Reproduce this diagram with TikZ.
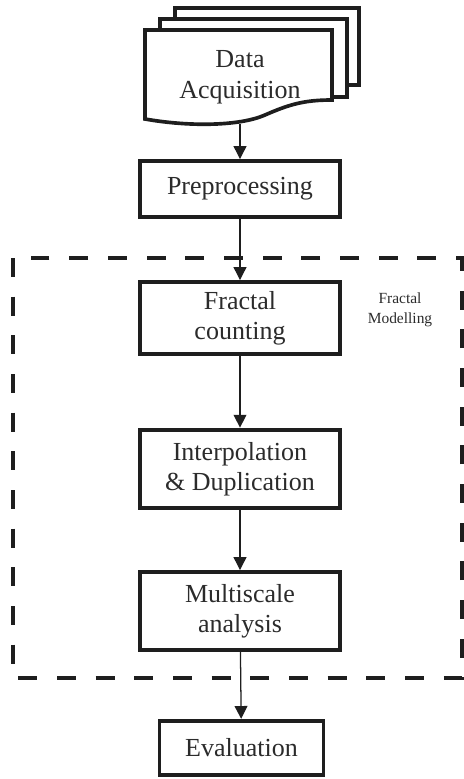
\documentclass[tikz,border=0pt]{standalone}
\usepackage{fontspec}
\setmainfont{Liberation Serif}
\usepackage{xcolor}
\definecolor{cInk}{HTML}{1E1E1E}
\definecolor{cText}{HTML}{2B2B2B}
\usepackage{tikz}
\usetikzlibrary{arrows.meta}

\begin{document}
\begin{tikzpicture}[
    x=0.025cm, y=-0.025cm,
    stagebox/.style={draw=cInk, line width=2.8pt, fill=white, align=center,
                     minimum width=5.0cm, inner sep=2pt, text=cText,
                     font=\fontsize{18.5}{21.5}\selectfont},
    page/.style={draw=cInk, line width=2.6pt, fill=white, line join=miter},
    arr/.style={-{Triangle[length=3.2mm, width=3.2mm]}, line width=0.9pt, color=cInk},
    frame/.style={draw=cInk, line width=2.4pt, dash pattern=on 13.5pt off 14pt}
]
\useasboundingbox (0,0) rectangle (464,779);

\draw[frame] (13,258) rectangle (462,678);
\node[font=\fontsize{11}{14}\selectfont, text=cText, align=center] (fmlabel) at (400,310) {Fractal\\Modelling};

\draw[page] (175,8) rectangle (359,85);
\draw[page] (160,19) rectangle (347,97);
\draw[page] (145,30) -- (332,30) -- (332,100)
    .. controls (305,100) and (290,104) .. (265,115)
    .. controls (240,126) and (190,127) .. (145,119) -- cycle;
\node[align=center, text=cText, font=\fontsize{18.5}{22}\selectfont] (acq) at (240,77) {Data\\Acquisition};
\coordinate (acqbot) at (240,124);

\node[stagebox, minimum height=1.4cm] (pre) at (240,189) {Preprocessing};
\node[stagebox, minimum height=1.8cm] (frac) at (240,318) {Fractal\\counting};
\node[stagebox, minimum height=1.97cm] (interp) at (240,469) {Interpolation\\\& Duplication};
\node[stagebox, minimum height=1.95cm] (multi) at (240,611) {Multiscale\\analysis};
\node[stagebox, minimum width=4.1cm, minimum height=1.36cm] (eval) at (241.5,748) {Evaluation};

\draw[arr] (acqbot) -- (pre);
\draw[arr] (pre) -- (frac);
\draw[arr] (frac) -- (interp);
\draw[arr] (interp) -- (multi);
\draw[arr] (multi) -- (eval);
\end{tikzpicture}
\end{document}
